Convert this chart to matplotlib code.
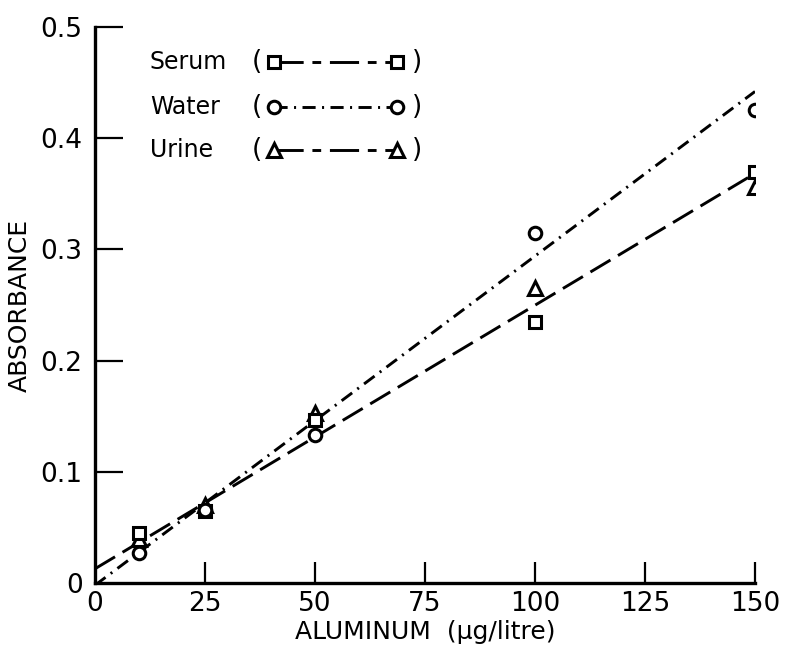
import numpy as np
import matplotlib
matplotlib.use("Agg")
import matplotlib.pyplot as plt
from matplotlib.lines import Line2D

# Measured absorbance vs. aluminium concentration
conc = [10, 25, 50, 100, 150]
serum = [0.045, 0.065, 0.147, 0.235, 0.370]
water = [0.027, 0.066, 0.133, 0.315, 0.425]
urine = [0.040, 0.070, 0.153, 0.265, 0.356]

# Calibration lines (slope, intercept); serum and urine share one line
water_fit = (0.00296, -0.002)
serum_urine_fit = (0.00237, 0.0128)

x_ticks = [25, 50, 75, 100, 125, 150]
y_ticks = [0.1, 0.2, 0.3, 0.4, 0.5]

plt.rcParams["font.family"] = ["DejaVu Sans"]

fig = plt.figure(figsize=(7.86, 6.52), dpi=100)
ax = fig.add_axes([95 / 786, 69 / 652, 660 / 786, 556 / 652])
ax.set_xlim(0, 150)
ax.set_ylim(0, 0.5)

LW = 2.1
dashdot = (4.5, 2.2, 0.7, 2.2)
longdash = (8, 3)
key_dash = (10, 3, 3, 3)

xs = np.array([0, 150])
ax.plot(xs, water_fit[0] * xs + water_fit[1], color="black", lw=LW,
        dashes=dashdot, zorder=2)
ax.plot(xs, serum_urine_fit[0] * xs + serum_urine_fit[1], color="black",
        lw=LW, dashes=longdash, zorder=2)

mk = dict(color="black", markerfacecolor="white", markeredgecolor="black",
          markeredgewidth=2.2, linestyle="none", zorder=4)
ax.plot(conc, urine, marker="^", markersize=9.5, **mk)
ax.plot(conc, serum, marker="s", markersize=8.5, **mk)
ax.plot(conc, water, marker="o", markersize=9, **mk)

# Axes styling
for side in ("top", "right"):
    ax.spines[side].set_visible(False)
for side in ("left", "bottom"):
    ax.spines[side].set_linewidth(2.4)

ax.set_xticks([0] + x_ticks)
ax.set_xticklabels(["0"] + [str(v) for v in x_ticks], fontsize=19)
ax.set_yticks([0] + y_ticks)
ax.set_yticklabels(["0"] + [f"{v:.1f}" for v in y_ticks], fontsize=19)
ax.tick_params(axis="x", direction="in", length=15, width=1.6, pad=6)
ax.tick_params(axis="y", direction="in", length=20, width=1.6, pad=9)
for t in (ax.xaxis.get_major_ticks()[0], ax.yaxis.get_major_ticks()[0]):
    t.tick1line.set_visible(False)

ax.set_xlabel("ALUMINUM  (\u03bcg/litre)", fontsize=18, labelpad=2)
ax.set_ylabel("ABSORBANCE", fontsize=18, labelpad=6)

# Hand-drawn key in the upper left
rows = [("Serum", "s", 8.5, key_dash, 0.937),
        ("Water", "o", 9, dashdot, 0.856),
        ("Urine", "^", 9.5, key_dash, 0.779)]
for name, marker, ms, dsh, fy in rows:
    ax.text(0.083, fy, name, transform=ax.transAxes, fontsize=17,
            va="center", ha="left")
    ax.text(0.245, fy, "(", transform=ax.transAxes, fontsize=19,
            va="center", ha="center")
    ax.text(0.488, fy, ")", transform=ax.transAxes, fontsize=19,
            va="center", ha="center")
    ax.add_line(Line2D([0.271, 0.458], [fy, fy], transform=ax.transAxes,
                       color="black", lw=LW, dashes=dsh))
    ax.add_line(Line2D([0.271, 0.458], [fy, fy], transform=ax.transAxes,
                       marker=marker, markersize=ms, markerfacecolor="white",
                       markeredgecolor="black", markeredgewidth=2.2,
                       linestyle="none"))

fig.savefig("out.png", dpi=100)
